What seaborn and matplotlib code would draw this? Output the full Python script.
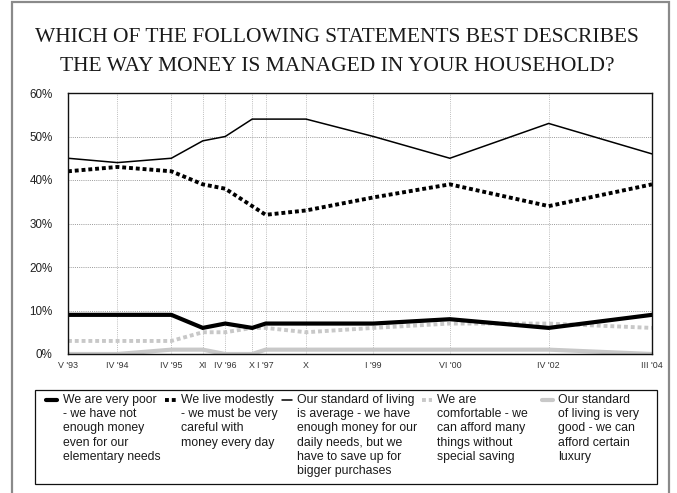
import matplotlib
matplotlib.use("Agg")
import matplotlib.pyplot as plt
from matplotlib.patches import Rectangle
from matplotlib.lines import Line2D
import pandas as pd
import seaborn as sns

# Survey waves (Roman-numeral month + year) and their dates
tick_labels = ["V '93", "IV '94", "IV '95", "XI", "IV '96", "X", "I '97", "X",
               "I '99", "VI '00", "IV '02", "III '04"]
survey_year = [1993, 1994, 1995, 1995, 1996, 1996, 1997, 1997, 1999, 2000, 2002, 2004]
survey_month = [5, 4, 4, 11, 4, 10, 1, 10, 1, 6, 4, 3]

# Share of answers (%) per wave
very_poor = [9, 9, 9, 6, 7, 6, 7, 7, 7, 8, 6, 9]
modest = [42, 43, 42, 39, 38, 34, 32, 33, 36, 39, 34, 39]
average = [45, 44, 45, 49, 50, 54, 54, 54, 50, 45, 53, 46]
comfortable = [3, 3, 3, 5, 5, 6, 6, 5, 6, 7, 7, 6]
very_good = [0, 0, 1, 1, 0, 0, 1, 1, 1, 1, 1, 0]

series_labels = [
    "We are very poor\n- we have not\nenough money\neven for our\nelementary needs",
    "We live modestly\n- we must be very\ncareful with\nmoney every day",
    "Our standard of living\nis average - we have\nenough money for our\ndaily needs, but we\nhave to save up for\nbigger purchases",
    "We are\ncomfortable - we\ncan afford many\nthings without\nspecial saving",
    "Our standard\nof living is very\ngood - we can\nafford certain\nluxury",
]

title_lines = ["WHICH OF THE FOLLOWING STATEMENTS BEST DESCRIBES",
               "THE WAY MONEY IS MANAGED IN YOUR HOUSEHOLD?"]

W, H = 677, 493
LIGHT = "#c8c8c8"
DOTS = (0, (1, 0.75))
styles = [
    dict(color="black", linewidth=3.0, linestyle="-"),
    dict(color="black", linewidth=2.8, linestyle=DOTS),
    dict(color="black", linewidth=1.1, linestyle="-"),
    dict(color=LIGHT, linewidth=2.8, linestyle=DOTS),
    dict(color=LIGHT, linewidth=3.0, linestyle="-"),
]

sns.set_style("white")
plt.rcParams["font.family"] = ["Liberation Sans", "DejaVu Sans"]

x_dates = [y + (m - 1) / 12 for y, m in zip(survey_year, survey_month)]
df = pd.DataFrame({"date": x_dates, "very_poor": very_poor, "modest": modest,
                   "average": average, "comfortable": comfortable,
                   "very_good": very_good})
cols = ["very_poor", "modest", "average", "comfortable", "very_good"]

fig = plt.figure(figsize=(W / 100, H / 100), dpi=100)
fig.patch.set_facecolor("white")


def fx(px):
    return px / W


def fy(py):
    return 1 - py / H


ax = fig.add_axes([fx(68), fy(354), fx(652) - fx(68), fy(93) - fy(354)])

# Draw the lighter series first so the black ones sit on top
for col, st in reversed(list(zip(cols, styles))):
    sns.lineplot(data=df, x="date", y=col, ax=ax, sort=True,
                 solid_joinstyle="miter", **st)

ax.set_xlim(x_dates[0], x_dates[-1])
ax.set_ylim(0, 60)
ax.set_yticks(range(0, 61, 10))
ax.set_yticklabels([f"{v}%" for v in range(0, 61, 10)], fontsize=8.4, color="#222222")
ax.set_xticks(x_dates)
ax.set_xticklabels(tick_labels, fontsize=6.4, color="#333333")
ax.tick_params(axis="y", length=0, pad=11)
ax.tick_params(axis="x", length=0, pad=5)
ax.set_xlabel("")
ax.set_ylabel("")
ax.grid(True, axis="y", color="#9a9a9a", linestyle=(0, (1, 1.2)), linewidth=0.7)
ax.grid(True, axis="x", color="#bdbdbd", linestyle=(0, (1, 1.2)), linewidth=0.7)
ax.set_axisbelow(True)
for sp in ax.spines.values():
    sp.set_visible(True)
    sp.set_color("#111111")
    sp.set_linewidth(1.0)

# Title
for i, line in enumerate(title_lines):
    fig.text(fx(337), fy(42 + 29 * i), line, ha="center", va="baseline",
             fontsize=15.5, family=["Liberation Serif", "DejaVu Serif"], color="#1a1a1a")

# Outer frame (open at the bottom edge of the canvas)
fig.add_artist(Rectangle((fx(12), fy(500)), fx(669) - fx(12), fy(2) - fy(500),
                         transform=fig.transFigure, fill=False,
                         edgecolor="#8a8a8a", linewidth=1.6, clip_on=False))

# Legend box
fig.add_artist(Rectangle((fx(35), fy(484)), fx(657) - fx(35), fy(390) - fy(484),
                         transform=fig.transFigure, fill=False,
                         edgecolor="#111111", linewidth=0.9))

handle_x = [(46, 57), (165, 176), (282, 292), (422, 432), (542, 553)]
text_x = [63, 181, 297, 437, 558]
for (h0, h1), tx, label, st in zip(handle_x, text_x, series_labels, styles):
    fig.add_artist(Line2D([fx(h0), fx(h1)], [fy(400), fy(400)],
                          transform=fig.transFigure, **st))
    for j, line in enumerate(label.split("\n")):
        fig.text(fx(tx), fy(400 + 14.2 * j), line, ha="left", va="center",
                 fontsize=8.8, color="#1a1a1a")

fig.savefig("out.png", dpi=100, facecolor="white")
